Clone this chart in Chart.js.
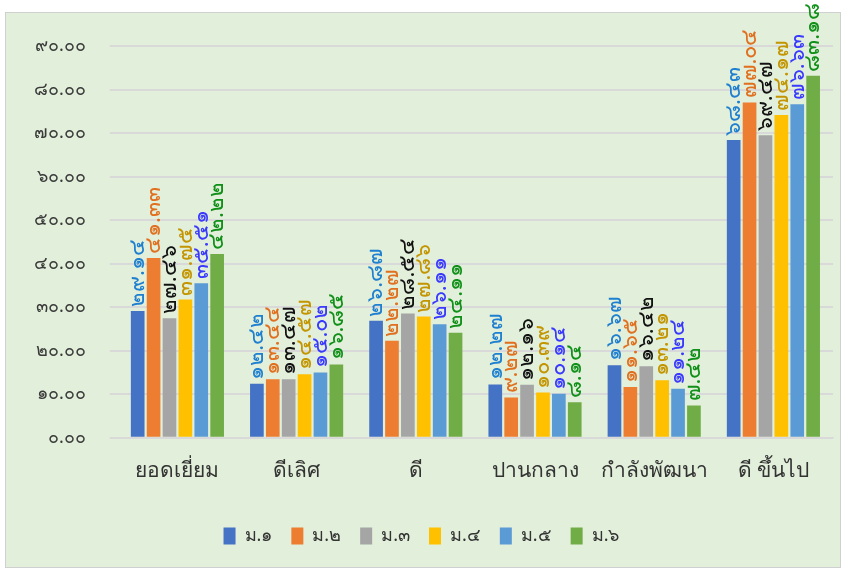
<!DOCTYPE html>
<html lang="th">
<head>
<meta charset="UTF-8" />
<title>ผลการประเมิน</title>
<script src="https://cdn.jsdelivr.net/npm/chart.js"></script>
<style>
  html, body { margin: 0; padding: 0; background: #fff; }
  .frame {
    position: absolute; left: 5px; top: 12px; width: 836px; height: 556px;
    background: #e2efda; border: 1px solid #d0d0d0; box-sizing: border-box;
  }
  canvas { position: absolute; left: 0; top: 0; }
</style>
</head>
<body>
<div class="frame"></div>
<canvas id="chart" width="843" height="570"></canvas>
<script>
  // หมวดผลการประเมิน
  const categories = ["ยอดเยี่ยม", "ดีเลิศ", "ดี", "ปานกลาง", "กำลังพัฒนา", "ดี ขึ้นไป"];
  const seriesNames = ["ม.๑", "ม.๒", "ม.๓", "ม.๔", "ม.๕", "ม.๖"];

  // ร้อยละแต่ละระดับชั้น
  const m1 = [29.14, 12.42, 26.87, 12.27, 16.67, 68.43];
  const m2 = [41.33, 13.44, 22.27, 9.27, 11.65, 77.04];
  const m3 = [27.46, 13.47, 28.54, 12.16, 16.42, 69.47];
  const m4 = [31.75, 14.57, 27.86, 10.39, 13.21, 74.17];
  const m5 = [35.51, 15.02, 26.11, 10.14, 11.24, 76.63];
  const m6 = [42.22, 16.85, 24.11, 8.14, 7.42, 83.18];

  const yTicks = [0, 10, 20, 30, 40, 50, 60, 70, 80, 90];

  const barColors = ["#4472c4", "#ed7d31", "#a5a5a5", "#ffc000", "#5b9bd5", "#70ad47"];
  const labelColors = ["#1f80d0", "#e0701f", "#111111", "#c39500", "#3a3aff", "#109018"];

  const thaiDigits = "๐๑๒๓๔๕๖๗๘๙";
  const toThai = (s) => String(s).replace(/[0-9]/g, (d) => thaiDigits[+d]);

  const FONT = "'Noto Sans', 'Noto Sans CJK SC', sans-serif";

  // ป้ายค่าบนแท่ง (หมุนแนวตั้ง)
  const valueLabels = {
    id: "valueLabels",
    afterDatasetsDraw(chart) {
      const ctx = chart.ctx;
      chart.data.datasets.forEach((ds, i) => {
        const meta = chart.getDatasetMeta(i);
        meta.data.forEach((bar, j) => {
          const txt = toThai(ds.data[j].toFixed(2));
          ctx.save();
          ctx.translate(bar.x, bar.y - 4);
          ctx.rotate(-Math.PI / 2);
          ctx.font = "22px " + FONT;
          ctx.fillStyle = labelColors[i];
          ctx.textAlign = "left";
          ctx.textBaseline = "middle";
          ctx.fillText(txt, 0, 0);
          ctx.restore();
        });
      });
    }
  };

  const allSeries = [m1, m2, m3, m4, m5, m6];

  new Chart(document.getElementById("chart"), {
    type: "bar",
    data: {
      labels: categories,
      datasets: allSeries.map((vals, i) => ({
        label: seriesNames[i],
        data: vals,
        backgroundColor: barColors[i],
        borderWidth: 0,
        categoryPercentage: 0.8,
        barPercentage: 0.86
      }))
    },
    options: {
      responsive: false,
      animation: false,
      devicePixelRatio: 1,
      layout: { padding: { left: 10, right: 10, top: 46, bottom: 15 } },
      plugins: {
        legend: {
          position: "bottom",
          labels: {
            boxWidth: 12, boxHeight: 17, padding: 19,
            color: "#333", font: { family: FONT, size: 18 }
          }
        },
        tooltip: { enabled: false }
      },
      scales: {
        x: {
          grid: { display: false },
          border: { display: true, color: "#d9d9d9" },
          ticks: { color: "#333", font: { family: FONT, size: 21 }, padding: 13 },
          // spacer under the category labels
          title: { display: true, text: " ", padding: 0, font: { size: 11, lineHeight: 1 } }
        },
        y: {
          min: 0, max: 90,
          afterBuildTicks: (axis) => { axis.ticks = yTicks.map((v) => ({ value: v })); },
          grid: { color: "#d9d9d9", lineWidth: 2, drawTicks: true, tickLength: 8, tickColor: "#d9d9d9" },
          border: { display: false },
          ticks: {
            color: "#3a3a3a", padding: 24,
            font: { family: FONT, size: 18 },
            callback: (v) => toThai(Number(v).toFixed(2))
          }
        }
      }
    },
    plugins: [valueLabels]
  });
</script>
</body>
</html>
